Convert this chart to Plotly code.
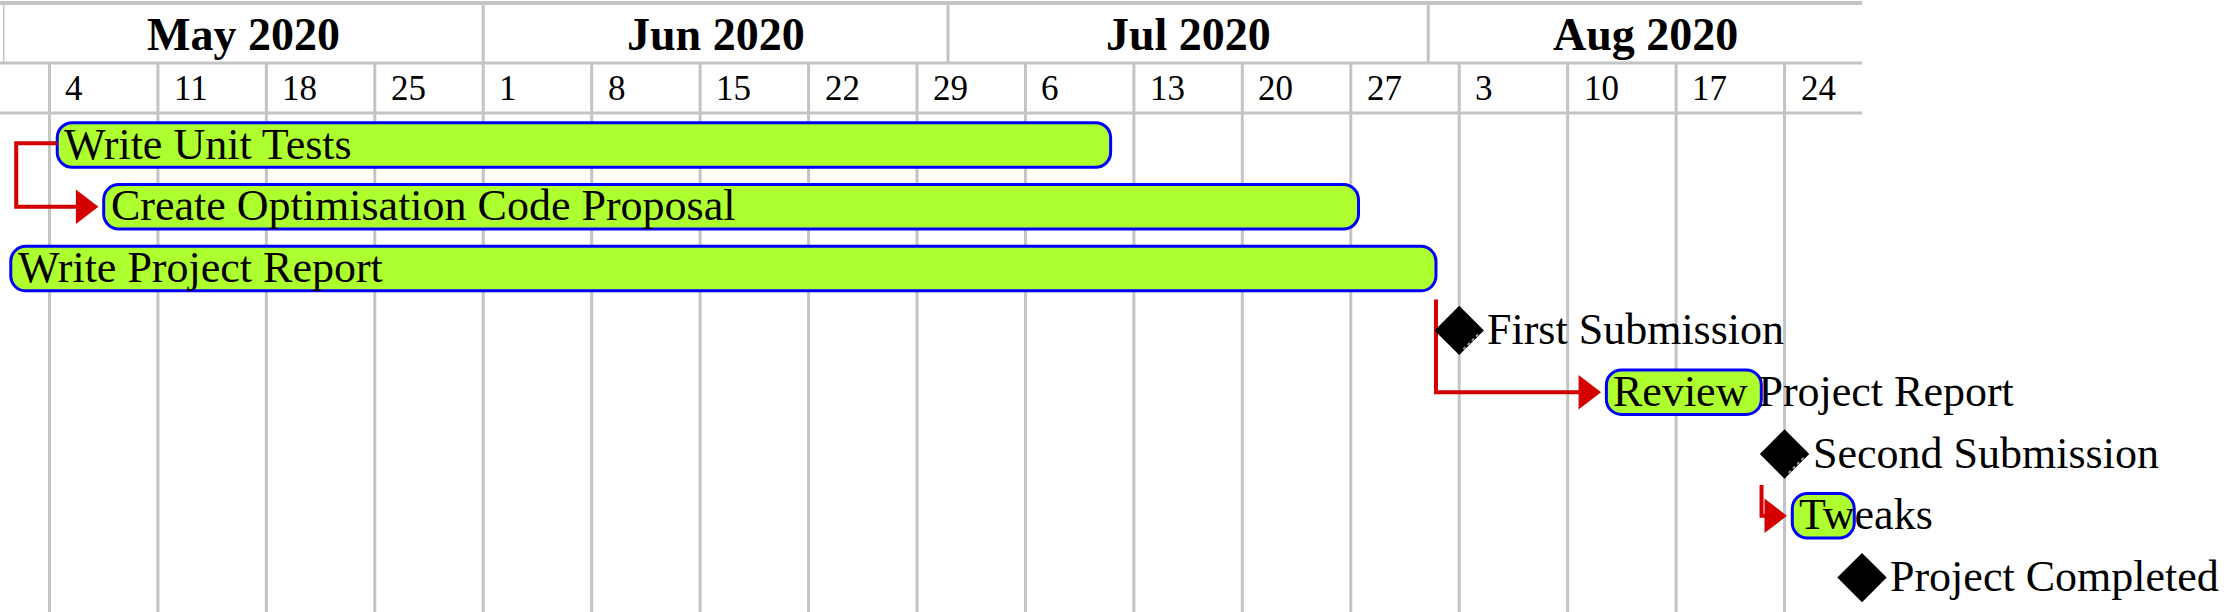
import plotly.graph_objects as go
import pandas as pd

# ---------------- data ----------------
tasks = ["Write Unit Tests", "Create Optimisation Code Proposal", "Write Project Report",
         "First Submission", "Review Project Report", "Second Submission", "Tweaks",
         "Project Completed"]
task_start = ["2020-05-04 12:00", "2020-05-07 12:00", "2020-05-01 12:00", "2020-08-03",
              "2020-08-12 12:00", "2020-08-24", "2020-08-24 12:00", "2020-08-29"]
task_end = ["2020-07-11 12:00", "2020-07-27 12:00", "2020-08-01 12:00", None,
            "2020-08-22 12:00", None, "2020-08-28 12:00", None]
is_milestone = [False, False, False, True, False, True, False, True]
dependencies = [("Write Unit Tests", "Create Optimisation Code Proposal", "SS"),
                ("Write Project Report", "Review Project Report", "FS"),
                ("Second Submission", "Tweaks", "FS")]

month_labels = ["May 2020", "Jun 2020", "Jul 2020", "Aug 2020"]
month_starts = ["2020-05-01", "2020-06-01", "2020-07-01", "2020-08-01"]
week_dates = ["2020-05-04", "2020-05-11", "2020-05-18", "2020-05-25", "2020-06-01",
              "2020-06-08", "2020-06-15", "2020-06-22", "2020-06-29", "2020-07-06",
              "2020-07-13", "2020-07-20", "2020-07-27", "2020-08-03", "2020-08-10",
              "2020-08-17", "2020-08-24"]
week_labels = ["4", "11", "18", "25", "1", "8", "15", "22", "29", "6", "13", "20", "27",
               "3", "10", "17", "24"]
view_start, view_end = "2020-05-01", "2020-08-29"

# ---------------- layout constants ----------------
W, H = 2232, 612
PLOT_L, PLOT_R = 3, 1862          # pixel extent of the time axis
ROW0_PX, ROW_PX = 145.0, 61.8     # first row centre and row pitch (pixels)
HDR_TOP, HDR_MID, HDR_BOT = 3, 63, 113
GRID = "#c4c4c4"
RED = "#d40000"
FONT = "Liberation Serif, Times New Roman, serif"
ARROW_SIZE = 30

def r(p):  # pixel y -> row units
    return (p - ROW0_PX) / ROW_PX

t0, t1 = pd.Timestamp(view_start), pd.Timestamp(view_end)
ms_per_px = (t1 - t0) / (PLOT_R - PLOT_L)

def shift(ts, px):
    return pd.Timestamp(ts) + ms_per_px * px

row_of = {t: i for i, t in enumerate(tasks)}

fig = go.Figure()
shapes, annotations = [], []

# ---------------- header & grid ----------------
for p, w in [(HDR_TOP, 4), (HDR_MID, 3), (HDR_BOT, 3)]:
    shapes.append(dict(type="line", xref="paper", yref="y", x0=-0.01, x1=1,
                       y0=r(p), y1=r(p), line=dict(color=GRID, width=w), layer="below"))
for m in month_starts:
    shapes.append(dict(type="line", xref="x", yref="y", x0=m, x1=m,
                       y0=r(HDR_TOP), y1=r(HDR_MID), line=dict(color=GRID, width=3), layer="below"))
for d in week_dates:
    shapes.append(dict(type="line", xref="x", yref="y", x0=d, x1=d,
                       y0=r(HDR_MID), y1=r(H + 5), line=dict(color=GRID, width=3), layer="below"))

month_bounds = [pd.Timestamp(m) for m in month_starts] + [t1]
for i, lab in enumerate(month_labels):
    a, b = max(month_bounds[i], t0), min(month_bounds[i + 1], t1)
    annotations.append(dict(x=a + (b - a) / 2, y=r(34), xref="x", yref="y", text=lab,
                            showarrow=False, xanchor="center", yanchor="middle",
                            font=dict(family=FONT, size=46, color="black", weight="bold")))
for d, lab in zip(week_dates, week_labels):
    annotations.append(dict(x=d, y=r(88), xref="x", yref="y", text=lab, showarrow=False,
                            xanchor="left", yanchor="middle", xshift=14,
                            font=dict(family=FONT, size=35, color="black")))

# ---------------- bars ----------------
bar_idx = [i for i in range(len(tasks)) if not is_milestone[i]]
fig.add_trace(go.Bar(
    orientation="h",
    y=[i for i in bar_idx],
    base=[task_start[i] for i in bar_idx],
    x=[(pd.Timestamp(task_end[i]) - pd.Timestamp(task_start[i])).total_seconds() * 1000 for i in bar_idx],
    width=0.72,
    marker=dict(color="#adff2f", line=dict(color="#0000ff", width=3), cornerradius=15),
    hoverinfo="skip", showlegend=False))

# ---------------- dependency arrows ----------------
rad = ARROW_SIZE / 2
tip_off = rad * 2 / 3 ** 0.5      # distance centre -> tip of plotly triangle-right
for pred, succ, kind in dependencies:
    pi, si = row_of[pred], row_of[succ]
    tip = shift(task_start[si], -3)
    base = shift(tip, -tip_off - rad / 2 + 2)
    if kind == "SS":
        xe = shift(task_start[pi], -41)
        xs = [pd.Timestamp(task_start[pi]), xe, xe, base]
        ys = [pi - 0.03, pi - 0.03, si, si]
    else:
        if is_milestone[pi]:
            xe = shift(task_start[pi], -23)
        else:
            xe = pd.Timestamp(task_end[pi])
        xs = [xe, xe, base]
        ys = [pi + 0.5, si, si]
    fig.add_trace(go.Scatter(x=xs, y=ys, mode="lines", line=dict(color=RED, width=4),
                             hoverinfo="skip", showlegend=False, cliponaxis=False))
    fig.add_trace(go.Scatter(x=[shift(tip, -tip_off)], y=[si], mode="markers",
                             marker=dict(symbol="triangle-right", size=ARROW_SIZE, color=RED),
                             hoverinfo="skip", showlegend=False, cliponaxis=False))

# ---------------- milestones ----------------
ms_idx = [i for i in range(len(tasks)) if is_milestone[i]]
fig.add_trace(go.Scatter(
    x=[task_start[i] for i in ms_idx], y=ms_idx, mode="markers",
    marker=dict(symbol="diamond", size=38, color="black", line=dict(width=0)),
    hoverinfo="skip", showlegend=False, cliponaxis=False))
# subtle bevel on the lower-right edge of each diamond
for i in ms_idx:
    fig.add_trace(go.Scatter(
        x=[shift(task_start[i], 19), shift(task_start[i], 2)],
        y=[i + 4 / ROW_PX, i + 21 / ROW_PX], mode="lines",
        line=dict(color="#9a9a9a", width=2, dash="dot"),
        hoverinfo="skip", showlegend=False, cliponaxis=False))

# ---------------- labels ----------------
for i, name in enumerate(tasks):
    annotations.append(dict(x=task_start[i], y=i, xref="x", yref="y", text=name,
                            showarrow=False, xanchor="left", yanchor="middle",
                            xshift=26 if is_milestone[i] else 5, yshift=1,
                            font=dict(family=FONT, size=44, color="black")))

fig.update_layout(
    width=W, height=H, margin=dict(l=PLOT_L, r=W - PLOT_R, t=0, b=0),
    paper_bgcolor="white", plot_bgcolor="white",
    xaxis=dict(type="date", range=[view_start, view_end], showgrid=False, zeroline=False,
               showticklabels=False, showline=False, ticks="", fixedrange=True),
    yaxis=dict(range=[r(H), r(0)], showgrid=False, zeroline=False, showticklabels=False,
               showline=False, ticks="", fixedrange=True),
    shapes=shapes, annotations=annotations, barmode="overlay",
)

fig.write_html("out.html", config={"displayModeBar": False},
               post_script="document.body.style.margin='0';")
